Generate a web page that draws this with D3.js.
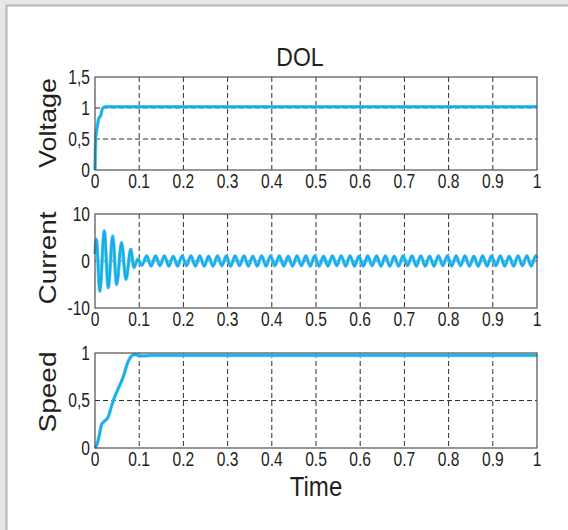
<!DOCTYPE html>
<html><head><meta charset="utf-8">
<script src="https://cdn.jsdelivr.net/npm/d3@7/dist/d3.min.js"></script>
<style>html,body{margin:0;padding:0;background:#e6e7e8;overflow:hidden}</style>
</head><body>
<svg id="chart" width="568" height="530"></svg>
<script>
// ---------- data ----------
const chartTitle = "DOL";
const xAxisTitle = "Time";
const xTicks = [0, 0.1, 0.2, 0.3, 0.4, 0.5, 0.6, 0.7, 0.8, 0.9, 1];
const xTickLabels = ["0", "0.1", "0.2", "0.3", "0.4", "0.5", "0.6", "0.7", "0.8", "0.9", "1"];

const voltageTicks = [0, 0.5, 1, 1.5];
const voltageTickLabels = ["0", "0,5", "1", "1,5"];
const voltageT = [0, 0.001, 0.002, 0.005, 0.008, 0.013, 0.017, 0.023, 1.0];
const voltageV = [0, 0.33, 0.55, 0.69, 0.82, 0.88, 0.99, 1.02, 1.02];

const currentTicks = [-10, 0, 10];
const currentTickLabels = ["-10", "0", "10"];
const currentT = [0, 0.003, 0.011, 0.021, 0.030, 0.040, 0.049, 0.060, 0.070, 0.081, 0.088, 0.097, 0.106, 0.117,
  0.127,0.137,0.147,0.157,0.167,0.177,0.187,0.197,0.207,0.217,
  0.227,0.237,0.247,0.257,0.267,0.277,0.287,0.297,0.307,0.317,
  0.327,0.337,0.347,0.357,0.367,0.377,0.387,0.397,0.407,0.417,
  0.427,0.437,0.447,0.457,0.467,0.477,0.487,0.497,0.507,0.517,
  0.527,0.537,0.547,0.557,0.567,0.577,0.587,0.597,0.607,0.617,
  0.627,0.637,0.647,0.657,0.667,0.677,0.687,0.697,0.707,0.717,
  0.727,0.737,0.747,0.757,0.767,0.777,0.787,0.797,0.807,0.817,
  0.827,0.837,0.847,0.857,0.867,0.877,0.887,0.897,0.907,0.917,
  0.927,0.937,0.947,0.957,0.967,0.977,0.987,0.997, 1.0];
const currentV = [1.5, 4.6, -6.4, 6.4, -5.7, 5.3, -5.0, 3.9, -3.9, 2.5, -1.4, 0.4, -0.9, 1.1,
  -1.1,1.1,-1.0,1.1,-1.1,1.0,-1.1,1.1,-1.0,1.1,
  -1.1,1.1,-1.1,1.0,-1.1,1.1,-1.0,1.1,-1.1,1.1,
  -1.0,1.1,-1.1,1.0,-1.1,1.1,-1.1,1.1,-1.0,1.1,
  -1.1,1.0,-1.1,1.1,-1.0,1.1,-1.1,1.1,-1.1,1.0,
  -1.1,1.1,-1.0,1.1,-1.1,1.1,-1.1,1.0,-1.1,1.1,
  -1.0,1.1,-1.1,1.1,-1.1,1.0,-1.1,1.1,-1.0,1.1,
  -1.1,1.1,-1.1,1.0,-1.1,1.1,-1.0,1.1,-1.1,1.1,
  -1.0,1.1,-1.1,1.0,-1.1,1.1,-1.1,1.1,-1.0,1.1,
  -1.1,1.0,-1.1,1.1,-1.0,1.1,-1.1,1.1, 0.6];

const speedTicks = [0, 0.5, 1];
const speedTickLabels = ["0", "0,5", "1"];
const speedT = [0, 0.004, 0.010, 0.015, 0.021, 0.030, 0.038, 0.043, 0.053, 0.064, 0.075, 0.083, 0.090, 0.102, 0.113, 0.124, 1.0];
const speedV = [0, 0.03, 0.14, 0.25, 0.28, 0.33, 0.45, 0.52, 0.63, 0.75, 0.91, 0.97, 0.985, 0.97, 0.97, 0.975, 0.975];

// ---------- layout ----------
const svg = d3.select("#chart");
const FONT = "'Liberation Sans', Arial, sans-serif";
const INK = "#231f20";
const LINE = "#12afeb";

// card
svg.append("rect").attr("x", 6.5).attr("y", 5.5).attr("width", 620).attr("height", 600)
  .attr("fill", "#ffffff").attr("stroke", "#b5b5b7").attr("stroke-width", 2);

const x = d3.scaleLinear().domain([0, 1]).range([95, 537]);

const panels = [
  {label: "Voltage", t: voltageT, v: voltageV, ticks: voltageTicks, tickLabels: voltageTickLabels, domain: [0, 1.5], range: [170, 77], labelY: 123, labelLen: 90},
  {label: "Current", t: currentT, v: currentV, ticks: currentTicks, tickLabels: currentTickLabels, domain: [-10, 10], range: [308, 214], labelY: 258, labelLen: 93},
  {label: "Speed", t: speedT, v: speedV, ticks: speedTicks, tickLabels: speedTickLabels, domain: [0, 1], range: [448, 353], labelY: 392, labelLen: 81}
];

function hText(g, tx, ty, str, size, anchor, sx) {
  return g.append("text").attr("transform", `translate(${tx},${ty}) scale(${sx},1)`)
    .attr("text-anchor", anchor).attr("font-family", FONT).attr("font-size", size)
    .attr("fill", INK).text(str);
}

panels.forEach(p => {
  const y = d3.scaleLinear().domain(p.domain).range(p.range);
  const g = svg.append("g");
  const [x0, x1] = x.range();
  const [yb, yt] = y.range();

  // grid (interior only)
  g.selectAll("line.vg").data(xTicks.slice(1, -1)).enter().append("line")
    .attr("x1", d => x(d)).attr("x2", d => x(d)).attr("y1", yt).attr("y2", yb)
    .attr("stroke", "#2f2f2f").attr("stroke-width", 1).attr("stroke-dasharray", "5,3");
  g.selectAll("line.hg").data(p.ticks.slice(1, -1)).enter().append("line")
    .attr("x1", x0).attr("x2", x1).attr("y1", d => y(d)).attr("y2", d => y(d))
    .attr("stroke", "#2f2f2f").attr("stroke-width", 1).attr("stroke-dasharray", "5,3");

  // data line
  const pts = p.t.map((t, i) => [t, p.v[i]]);
  const line = d3.line().x(d => x(d[0])).y(d => y(d[1])).curve(d3.curveMonotoneX);
  g.append("path").datum(pts).attr("d", line).attr("fill", "none")
    .attr("stroke", "#7fd0f3").attr("stroke-width", 3.6).attr("stroke-linejoin", "round");
  g.append("path").datum(pts).attr("d", line).attr("fill", "none")
    .attr("stroke", LINE).attr("stroke-width", 2.4).attr("stroke-linejoin", "round");

  // frame
  g.append("rect").attr("x", x0).attr("y", yt).attr("width", x1 - x0).attr("height", yb - yt)
    .attr("fill", "none").attr("stroke", "#505050").attr("stroke-width", 1.2);

  // y tick labels
  p.ticks.forEach((tk, i) => {
    hText(g, 90, y(tk) + 6.8, p.tickLabels[i], 19.5, "end", 0.8);
  });
  // x tick labels
  xTicks.forEach((tk, i) => {
    hText(g, x(tk), yb + 18, xTickLabels[i], 19.5, "middle", 0.8);
  });

  // y axis label
  g.append("text")
    .attr("transform", `translate(56,${p.labelY}) scale(0.9,1) rotate(-90)`)
    .attr("text-anchor", "middle").attr("font-family", FONT).attr("font-size", 26)
    .attr("fill", INK).attr("textLength", p.labelLen).attr("lengthAdjust", "spacingAndGlyphs")
    .text(p.label);
});

// title and x axis title
hText(svg, 300, 66, chartTitle, 25, "middle", 0.92);
hText(svg, 316, 496, xAxisTitle, 28, "middle", 0.86);
</script>
</body></html>
